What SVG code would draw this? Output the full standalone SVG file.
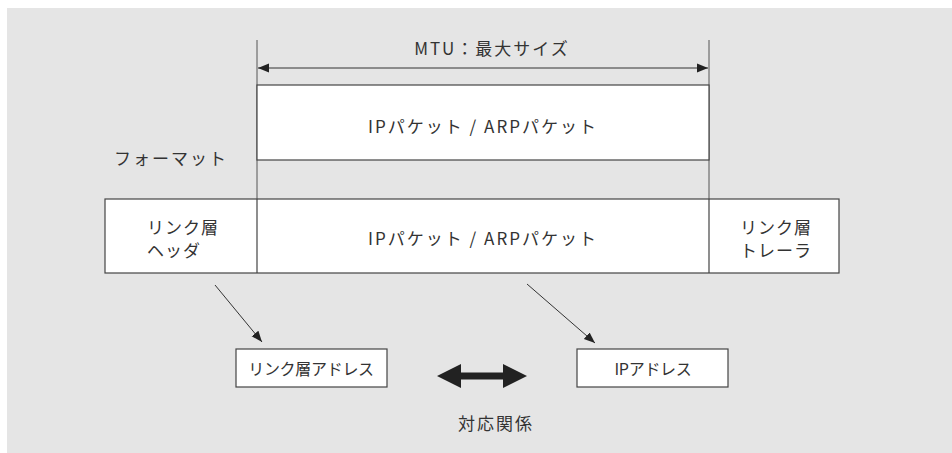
<svg xmlns="http://www.w3.org/2000/svg" width="952" height="453" viewBox="0 0 952 453">
  <style>
    .t { font-family: "Noto Sans CJK JP", "Noto Sans", sans-serif; font-size: 17px; fill: #333; text-anchor: middle; dominant-baseline: central; letter-spacing: 2px; }
    .left { text-anchor: start; letter-spacing: 1px; }
    .small { font-size: 16px; letter-spacing: -0.3px; }
    .box { fill: #fff; stroke: #444; stroke-width: 1.2; }
    .guide { stroke: #555; stroke-width: 1; fill: none; }
    .thin { stroke: #333; stroke-width: 1; fill: none; }
  </style>
  <defs>
    <marker id="tip" viewBox="0 0 10 10" refX="10" refY="5" markerWidth="11" markerHeight="11" markerUnits="userSpaceOnUse" orient="auto-start-reverse">
      <path d="M0,1 L10,5 L0,9 Z" fill="#222"/>
    </marker>
  </defs>

  <rect x="7" y="8" width="945" height="445" fill="#e5e5e5"/>

  <g id="connectors">
    <line class="guide" x1="257" y1="40" x2="257" y2="199"/>
    <line class="guide" x1="709" y1="40" x2="709" y2="199"/>
    <line class="thin" x1="258" y1="68" x2="708" y2="68" marker-start="url(#tip)" marker-end="url(#tip)"/>
    <line class="thin" x1="215" y1="285" x2="262" y2="342" marker-end="url(#tip)"/>
    <line class="thin" x1="527" y1="284" x2="595" y2="343" marker-end="url(#tip)"/>
    <path id="correspondence" d="M437,376 L461,364 L461,372.5 L503,372.5 L503,364 L527,376 L503,388 L503,379.5 L461,379.5 L461,388 Z" fill="#222"/>
  </g>

  <g id="mtu-label">
    <text class="t" x="492" y="47">MTU：最大サイズ</text>
  </g>

  <g id="packet">
    <rect class="box" x="257" y="85" width="452" height="75"/>
    <text class="t" x="483" y="125">IPパケット / ARPパケット</text>
  </g>

  <g id="format-label">
    <text class="t" x="171" y="157">フォーマット</text>
  </g>

  <g id="frame">
    <rect class="box" x="105" y="199" width="734" height="74"/>
    <line class="box" x1="257" y1="199" x2="257" y2="273"/>
    <line class="box" x1="709" y1="199" x2="709" y2="273"/>
  </g>

  <g id="link-header">
    <text class="t left" x="147" y="226">リンク層</text>
    <text class="t left" x="147" y="249">ヘッダ</text>
  </g>

  <g id="frame-payload">
    <text class="t" x="483" y="237">IPパケット / ARPパケット</text>
  </g>

  <g id="link-trailer">
    <text class="t left" x="740" y="226">リンク層</text>
    <text class="t left" x="740" y="249">トレーラ</text>
  </g>

  <g id="link-address">
    <rect class="box" x="236" y="349" width="151" height="38"/>
    <text class="t small" x="311" y="368">リンク層アドレス</text>
  </g>

  <g id="ip-address">
    <rect class="box" x="577" y="349" width="151" height="38"/>
    <text class="t small" x="653" y="368">IPアドレス</text>
  </g>

  <g id="correspondence-label">
    <text class="t" x="496" y="422">対応関係</text>
  </g>
</svg>
